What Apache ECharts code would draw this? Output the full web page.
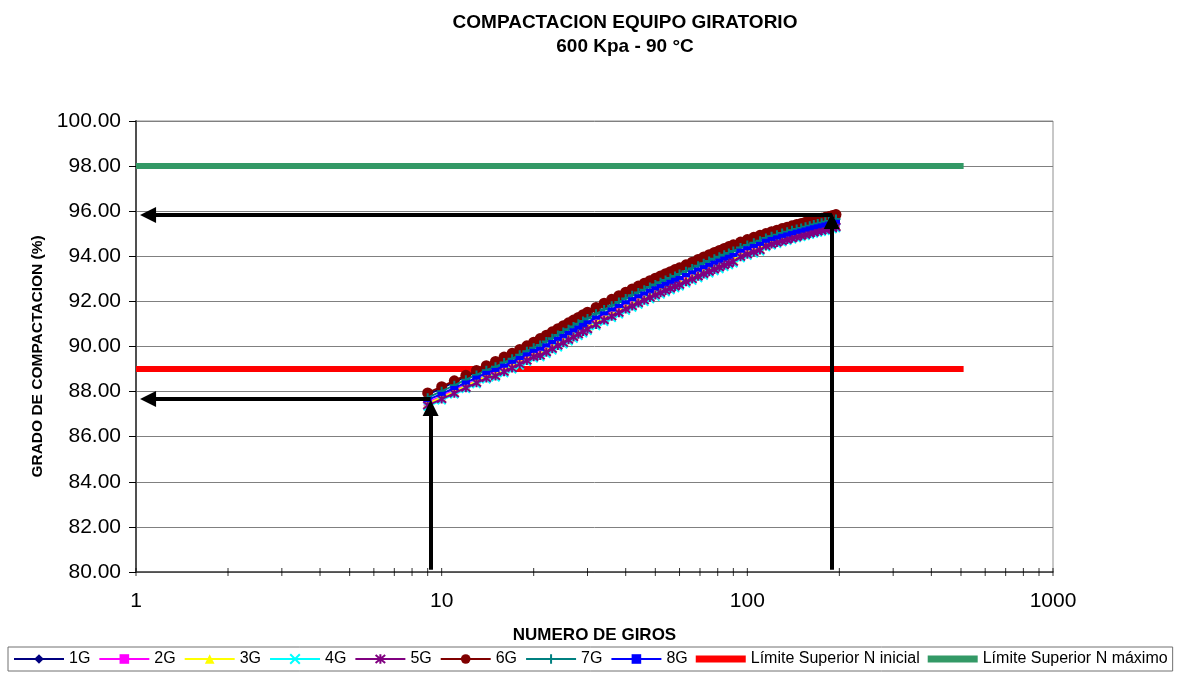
<!DOCTYPE html>
<html>
<head>
<meta charset="utf-8">
<title>Compactación equipo giratorio</title>
<script src="https://cdn.jsdelivr.net/npm/echarts@6/dist/echarts.min.js"></script>
<style>
  html, body { margin: 0; padding: 0; background: #ffffff; }
  #chart { width: 1187px; height: 674px; }
</style>
</head>
<body>
<div id="chart"></div>
<script>
// Number of gyrations at which the specimen height was recorded
const giros = [
  9, 10, 11, 12, 13, 14, 15, 16, 17, 18, 19, 20, 21, 22, 23, 24, 25, 26, 27, 28, 29, 30,
  32, 34, 36, 38, 40, 42, 44, 46, 48, 50, 52, 54, 56, 58, 60,
  63, 66, 69, 72, 75, 78, 81, 84, 87, 90,
  95, 100, 105, 110, 115, 120, 125, 130, 135, 140, 145, 150, 155, 160, 165, 170, 175, 180, 185, 190, 195
];

// Degree of compaction (%Gmm) for each specimen
const g1 = [
  87.88, 88.15, 88.42, 88.66, 88.89, 89.09, 89.28, 89.47, 89.65, 89.81, 89.98, 90.13, 90.29, 90.45, 90.59, 90.73, 90.87, 91.00, 91.12, 91.24, 91.36, 91.47,
  91.68, 91.87, 92.04, 92.20, 92.36, 92.50, 92.63, 92.76, 92.88, 92.99, 93.09, 93.19, 93.28, 93.37, 93.45,
  93.58, 93.70, 93.82, 93.93, 94.03, 94.13, 94.22, 94.31, 94.39, 94.47,
  94.59, 94.70, 94.80, 94.89, 94.97, 95.05, 95.12, 95.19, 95.25, 95.31, 95.37, 95.42, 95.47, 95.52, 95.57, 95.61, 95.65, 95.69, 95.73, 95.77, 95.81
];
const g2 = [
  87.52, 87.80, 88.06, 88.30, 88.52, 88.73, 88.84, 89.03, 89.20, 89.37, 89.53, 89.69, 89.77, 89.92, 90.07, 90.21, 90.34, 90.47, 90.59, 90.71, 90.83, 90.94,
  91.15, 91.34, 91.51, 91.67, 91.83, 91.97, 92.10, 92.22, 92.34, 92.45, 92.55, 92.65, 92.74, 92.83, 92.91,
  93.04, 93.16, 93.28, 93.39, 93.49, 93.59, 93.68, 93.77, 93.85, 93.93,
  94.13, 94.24, 94.34, 94.43, 94.59, 94.67, 94.74, 94.81, 94.87, 94.93, 94.99, 95.04, 95.09, 95.14, 95.19, 95.23, 95.27, 95.31, 95.35, 95.39, 95.43
];
const g3 = [
  87.46, 87.74, 88.00, 88.24, 88.46, 88.67, 88.77, 88.96, 89.13, 89.30, 89.46, 89.62, 89.69, 89.84, 89.99, 90.13, 90.26, 90.39, 90.51, 90.63, 90.75, 90.86,
  91.07, 91.26, 91.43, 91.59, 91.75, 91.89, 92.02, 92.14, 92.26, 92.37, 92.47, 92.57, 92.66, 92.75, 92.83,
  92.96, 93.08, 93.20, 93.31, 93.41, 93.51, 93.60, 93.69, 93.77, 93.85,
  94.06, 94.17, 94.27, 94.36, 94.53, 94.61, 94.68, 94.75, 94.81, 94.87, 94.93, 94.98, 95.03, 95.08, 95.13, 95.17, 95.21, 95.25, 95.29, 95.33, 95.37
];
const g4 = [
  87.34, 87.62, 87.88, 88.12, 88.34, 88.55, 88.63, 88.82, 88.99, 89.16, 89.32, 89.48, 89.53, 89.68, 89.83, 89.97, 90.10, 90.23, 90.35, 90.47, 90.59, 90.70,
  90.91, 91.10, 91.27, 91.43, 91.59, 91.73, 91.86, 91.98, 92.10, 92.21, 92.31, 92.41, 92.50, 92.59, 92.67,
  92.80, 92.92, 93.04, 93.15, 93.25, 93.35, 93.44, 93.53, 93.61, 93.69,
  93.92, 94.03, 94.13, 94.22, 94.41, 94.49, 94.56, 94.63, 94.69, 94.75, 94.81, 94.86, 94.91, 94.96, 95.01, 95.05, 95.09, 95.13, 95.17, 95.21, 95.25
];
const g5 = [
  87.39, 87.67, 87.93, 88.17, 88.39, 88.60, 88.69, 88.88, 89.05, 89.22, 89.38, 89.54, 89.60, 89.75, 89.90, 90.04, 90.17, 90.30, 90.42, 90.54, 90.66, 90.77,
  90.98, 91.17, 91.34, 91.50, 91.66, 91.80, 91.93, 92.05, 92.17, 92.28, 92.38, 92.48, 92.57, 92.66, 92.74,
  92.87, 92.99, 93.11, 93.22, 93.32, 93.42, 93.51, 93.60, 93.68, 93.76,
  93.98, 94.09, 94.19, 94.28, 94.46, 94.54, 94.61, 94.68, 94.74, 94.80, 94.86, 94.91, 94.96, 95.01, 95.06, 95.10, 95.14, 95.18, 95.22, 95.26, 95.30
];
const g6 = [
  87.94, 88.22, 88.48, 88.72, 88.94, 89.15, 89.34, 89.53, 89.70, 89.87, 90.03, 90.19, 90.35, 90.50, 90.65, 90.79, 90.92, 91.05, 91.17, 91.29, 91.41, 91.52,
  91.73, 91.92, 92.09, 92.25, 92.41, 92.55, 92.68, 92.80, 92.92, 93.03, 93.13, 93.23, 93.32, 93.41, 93.49,
  93.62, 93.74, 93.86, 93.97, 94.07, 94.17, 94.26, 94.35, 94.43, 94.51,
  94.63, 94.74, 94.84, 94.93, 95.01, 95.09, 95.16, 95.23, 95.29, 95.35, 95.41, 95.46, 95.51, 95.56, 95.61, 95.65, 95.69, 95.73, 95.77, 95.81, 95.85
];
const g7 = [
  87.73, 88.02, 88.28, 88.53, 88.74, 88.95, 89.10, 89.29, 89.46, 89.63, 89.79, 89.95, 90.07, 90.22, 90.37, 90.51, 90.64, 90.77, 90.89, 91.01, 91.13, 91.24,
  91.45, 91.64, 91.81, 91.97, 92.13, 92.27, 92.40, 92.52, 92.64, 92.75, 92.85, 92.95, 93.04, 93.13, 93.21,
  93.34, 93.46, 93.58, 93.69, 93.79, 93.89, 93.98, 94.07, 94.15, 94.23,
  94.39, 94.50, 94.60, 94.69, 94.81, 94.89, 94.96, 95.03, 95.09, 95.15, 95.21, 95.26, 95.31, 95.36, 95.41, 95.45, 95.49, 95.53, 95.57, 95.61, 95.65
];
const g8 = [
  87.63, 87.90, 88.16, 88.40, 88.62, 88.83, 88.96, 89.15, 89.32, 89.49, 89.65, 89.81, 89.90, 90.05, 90.20, 90.34, 90.47, 90.60, 90.72, 90.84, 90.96, 91.07,
  91.28, 91.47, 91.64, 91.80, 91.96, 92.10, 92.23, 92.35, 92.47, 92.58, 92.68, 92.78, 92.87, 92.96, 93.04,
  93.17, 93.29, 93.41, 93.52, 93.62, 93.72, 93.81, 93.90, 93.98, 94.06,
  94.25, 94.36, 94.46, 94.55, 94.69, 94.77, 94.84, 94.91, 94.97, 95.03, 95.09, 95.14, 95.19, 95.24, 95.29, 95.33, 95.37, 95.41, 95.45, 95.49, 95.53
];

// Specification limits, drawn across the gyration range
const limiteGiros = [1, 510];
const limiteInicial = [89, 89];
const limiteMaximo = [98, 98];

// Readings marked with arrows: N inicial and N máximo with their mean compaction
const nInicial = 9.2;
const pctInicial = 87.67;
const nMaximo = 189;
const pctMaximo = 95.83;
// Where the arrow shafts stop so each centred arrowhead reaches its target
const shaftEndN = 1.095;
const shaftEndInicial = 87.27;
const shaftEndMaximo = 95.57;

// Axis ranges and tick marks
const yMin = 80, yMax = 100, yStep = 2;
const xMin = 1, xMax = 1000;
const xTicks = [1, 2, 3, 4, 5, 6, 7, 8, 9, 10, 20, 30, 40, 50, 60, 70, 80, 90, 100,
  200, 300, 400, 500, 600, 700, 800, 900, 1000];

const FONT = "'Liberation Sans', Arial, Helvetica, sans-serif";

const pair = (xs, ys) => xs.map((x, i) => [x, ys[i]]);

const specimens = [
  { name: '1G', data: g1, color: '#000080', symbol: 'diamond', size: [10, 12] },
  { name: '2G', data: g2, color: '#FF00FF', symbol: 'rect', size: 8 },
  { name: '3G', data: g3, color: '#FFFF00', symbol: 'triangle', size: 9 },
  { name: '4G', data: g4, color: '#00FFFF', symbol: 'path://M0,0L10,10M10,0L0,10', size: 8, stroke: true },
  { name: '5G', data: g5, color: '#800080', symbol: 'path://M0,0L10,10M10,0L0,10M5,-1L5,11', size: 9, stroke: true },
  { name: '6G', data: g6, color: '#800000', symbol: 'circle', size: 11 },
  { name: '7G', data: g7, color: '#008080', symbol: 'path://M5,0L5,10M0,5L10,5', size: 9, stroke: true },
  { name: '8G', data: g8, color: '#0000FF', symbol: 'rect', size: [8, 4] }
];

const series = [];

// Limit lines sit beneath the compaction curves
series.push({
  name: 'Límite Superior N inicial',
  type: 'line',
  data: pair(limiteGiros, limiteInicial),
  symbol: 'none',
  color: '#FF0000',
  lineStyle: { color: '#FF0000', width: 6 },
  z: 1
});
series.push({
  name: 'Límite Superior N máximo',
  type: 'line',
  data: pair(limiteGiros, limiteMaximo),
  symbol: 'none',
  color: '#339966',
  lineStyle: { color: '#339966', width: 6 },
  z: 1
});

specimens.forEach((s, i) => {
  series.push({
    name: s.name,
    type: 'line',
    data: pair(giros, s.data),
    color: s.color,
    symbol: s.symbol,
    symbolSize: s.size,
    showAllSymbol: true,
    lineStyle: { color: s.color, width: 2 },
    itemStyle: s.stroke
      ? { color: s.color, borderColor: s.color, borderWidth: 2 }
      : { color: s.color, borderWidth: 0 },
    z: 2 + i
  });
});

// Minor and major tick marks on the logarithmic axis
series.push({
  name: 'ticks',
  type: 'scatter',
  data: xTicks.map(t => [t, yMin]),
  symbol: 'rect',
  symbolSize: [1, 8],
  itemStyle: { color: '#000000' },
  clip: false,
  silent: true,
  z: 20
});

// Arrows reading N inicial and N máximo off the curves
series.push({
  name: 'lecturas',
  type: 'line',
  data: [],
  silent: true,
  z: 30,
  markLine: {
    silent: true,
    z: 50,
    symbol: ['none', 'triangle'],
    symbolSize: 16,
    label: { show: false },
    lineStyle: { color: '#000000', width: 4, type: 'solid' },
    itemStyle: { color: '#000000' },
    emphasis: { disabled: true },
    data: [
      [{ coord: [nInicial, yMin + 0.1] }, { coord: [nInicial, shaftEndInicial] }],
      [{ coord: [nInicial, pctInicial] }, { coord: [shaftEndN, pctInicial] }],
      [{ coord: [nMaximo, yMin + 0.1] }, { coord: [nMaximo, shaftEndMaximo] }],
      [{ coord: [nMaximo, pctMaximo] }, { coord: [shaftEndN, pctMaximo] }]
    ]
  }
});

const chart = echarts.init(document.getElementById('chart'), null, { renderer: 'canvas' });

chart.setOption({
  animation: false,
  backgroundColor: '#ffffff',
  textStyle: { fontFamily: FONT },
  title: {
    text: 'COMPACTACION EQUIPO GIRATORIO',
    subtext: '600 Kpa - 90 °C',
    left: 620,
    top: 8,
    textAlign: 'center',
    itemGap: 5,
    textStyle: { fontFamily: FONT, fontSize: 19, fontWeight: 'bold', color: '#000000' },
    subtextStyle: { fontFamily: FONT, fontSize: 19, fontWeight: 'bold', color: '#000000' }
  },
  legend: {
    left: 8,
    top: 647,
    padding: [4, 5, 4, 5],
    itemGap: 8,
    itemWidth: 50,
    itemHeight: 12,
    borderColor: '#707070',
    borderWidth: 1,
    textStyle: { fontFamily: FONT, fontSize: 16, color: '#000000' },
    data: ['1G', '2G', '3G', '4G', '5G', '6G', '7G', '8G',
      { name: 'Límite Superior N inicial', icon: 'path://M0,0H56V8H0Z' },
      { name: 'Límite Superior N máximo', icon: 'path://M0,0H56V8H0Z' }]
  },
  grid: {
    left: 136,
    right: 134,
    top: 121,
    bottom: 102,
    show: true,
    borderColor: '#909090',
    borderWidth: 1,
    containLabel: false
  },
  xAxis: {
    type: 'log',
    logBase: 10,
    min: xMin,
    max: xMax,
    name: 'NUMERO DE GIROS',
    nameLocation: 'middle',
    nameGap: 55,
    nameTextStyle: { fontFamily: FONT, fontSize: 17, fontWeight: 'bold', color: '#000000' },
    axisLine: { show: true, onZero: false, lineStyle: { color: '#404040', width: 1.5 } },
    axisTick: { show: false },
    minorTick: { show: false },
    splitLine: { show: false },
    axisLabel: {
      margin: 19,
      fontSize: 21,
      color: '#000000',
      fontFamily: FONT,
      formatter: v => String(Math.round(v))
    }
  },
  yAxis: {
    type: 'value',
    min: yMin,
    max: yMax,
    interval: yStep,
    name: 'GRADO DE COMPACTACION (%)',
    nameLocation: 'middle',
    nameGap: 89,
    nameTextStyle: {
      fontFamily: FONT, fontSize: 15.5, fontWeight: 'bold', color: '#000000',
      padding: [0, 20, 0, 0]
    },
    axisLine: { show: true, lineStyle: { color: '#505050', width: 2 } },
    axisTick: { show: true, length: 7, lineStyle: { color: '#000000' } },
    splitLine: { show: true, lineStyle: { color: '#808080', width: 1 } },
    axisLabel: {
      margin: 15,
      fontSize: 21,
      color: '#000000',
      fontFamily: FONT,
      formatter: v => v.toFixed(2)
    }
  },
  series: series
});
</script>
</body>
</html>
